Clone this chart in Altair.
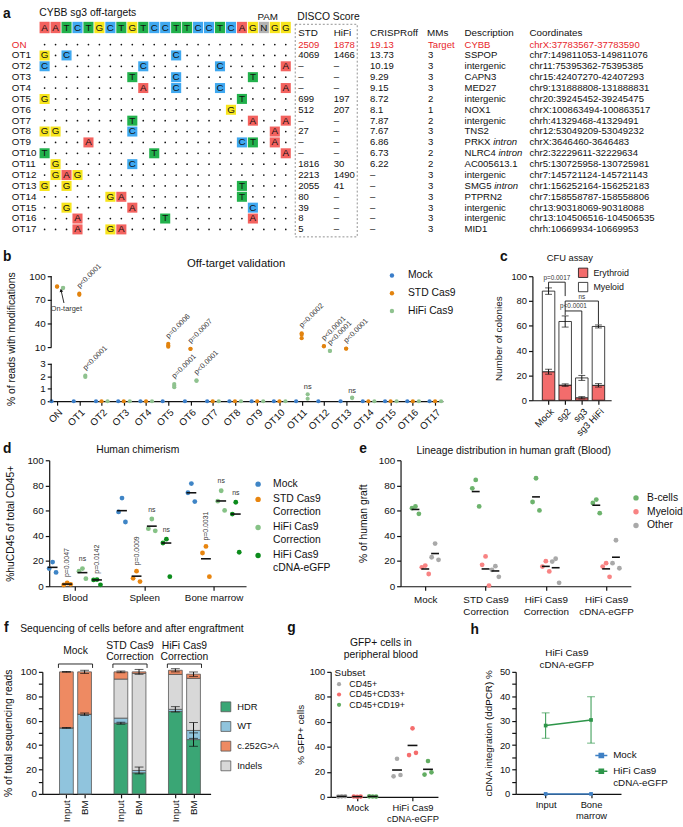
import json
import altair as alt
import pandas as pd

FONT = "Liberation Sans"
INK = "#111111"
ON_RED = "#e8262b"

# ============ a: CYBB sg3 on- and off-target sites ============
GUIDE = "AATCTGCTGTCCTTCCTCAGNGG"
SITES = ["ON", "OT1", "OT2", "OT3", "OT4", "OT5", "OT6", "OT7", "OT8", "OT9",
         "OT10", "OT11", "OT12", "OT13", "OT14", "OT15", "OT16", "OT17"]
# mismatches as "<position><base>" along protospacer + PAM
MISMATCHES = ["", "1G 3C 13C", "1C 10C 17C 23A", "9T 13C 20T", "10A 13C 17C 23A",
              "1G 19T", "18G", "9T 20A 23A", "1G 2G 9C 22A", "5A 19C 20T 22A",
              "1T 11T 23A", "2G 9C", "2G 3A 4G", "1G 3G 19T", "7G 8A 19T",
              "3G 9A 20C", "4A 12T 20A", "4A 7G 8A"]
DISCO_STD = ["2509", "4069", "–", "–", "–", "699", "512", "–", "27", "–", "–",
             "1816", "2213", "2055", "80", "39", "8", "5"]
DISCO_HIFI = ["1878", "1466", "–", "–", "–", "197", "207", "–", "–", "–", "–",
              "30", "1490", "41", "–", "–", "–", "–"]
CRISPROFF = ["19.13", "13.73", "10.19", "9.29", "9.15", "8.72", "8.1", "7.87", "7.67",
             "6.86", "6.73", "6.22", "–", "–", "–", "–", "–", "–"]
MMS = ["Target", "3", "3", "3", "3", "2", "1", "2", "3", "3", "2", "2",
       "3", "3", "3", "3", "3", "3"]
GENES = ["CYBB", "SSPOP", "intergenic", "CAPN3", "MED27", "intergenic", "NOX1",
         "intergenic", "TNS2", "PRKX", "NLRC4", "AC005613.1", "intergenic", "SMG5",
         "PTPRN2", "intergenic", "intergenic", "MID1"]
INTRONIC = ["OT9", "OT10", "OT13"]
COORDS = ["chrX:37783567-37783590", "chr7:149811053-149811076", "chr11:75395362-75395385",
          "chr15:42407270-42407293", "chr9:131888808-131888831", "chr20:39245452-39245475",
          "chrX:100863494-100863517", "chrh:41329468-41329491", "chr12:53049209-53049232",
          "chrX:3646460-3646483", "chr2:32229611-32229634", "chr5:130725958-130725981",
          "chr7:145721124-145721143", "chr1:156252164-156252183", "chr7:158558787-158558806",
          "chr13:90318069-90318088", "chr13:104506516-104506535", "chrh:10669934-10669953"]

# ============ b: amplicon sequencing of the sites ============
READ_SERIES = ["Mock", "STD Cas9", "HiFi Cas9"]
READS_MOCK = [[0], [0], [0], [0], [0], [0], [0], [0], [0],
              [0], [0], [0], [0], [0], [0], [0], [0], [0]]
READS_STD = [[87.1, 86.6], [77.9, 76.4], [0], [0], [0], [14.1, 12.0, 10.4], [7.6, 7.9],
             [0], [0], [0], [0], [27.5, 25.8, 21.3], [11.3, 11.0], [7.9, 8.2],
             [0], [0], [0], [0]]
READS_HIFI = [[85.4, 85.0], [2.05, 1.95], [0], [0], [0], [1.38, 1.25, 1.12], [1.68, 1.62],
              [0], [0], [0], [0], [0.55, 0.2], [5.0, 5.3], [0.3, 0.25],
              [0], [0], [0], [0]]
READ_PVALUES = [("OT1", "STD Cas9", "p<0.0001"), ("OT1", "HiFi Cas9", "p<0.0001"),
                ("OT5", "STD Cas9", "p=0.0006"), ("OT5", "HiFi Cas9", "p=0.0001"),
                ("OT6", "STD Cas9", "p=0.0007"), ("OT6", "HiFi Cas9", "p<0.0001"),
                ("OT11", "STD Cas9", "p=0.0002"), ("OT11", "HiFi Cas9", "ns"),
                ("OT12", "STD Cas9", "p<0.0001"), ("OT12", "HiFi Cas9", "p<0.0001"),
                ("OT13", "STD Cas9", "p<0.0001"), ("OT13", "HiFi Cas9", "ns")]
READ_TICKS = [0, 1, 2, 3, 10, 40, 70, 100]

# ============ c: CFU assay ============
CFU_GROUPS = ["Mock", "sg2", "sg3", "sg3 HiFi"]
CFU_ERYTHROID = [23.0, 12.2, 2.0, 12.0]
CFU_ERYTHROID_SD = [2.0, 1.0, 0.9, 1.4]
CFU_MYELOID = [65.0, 51.3, 16.0, 47.5]
CFU_TOTAL_SD = [2.6, 4.5, 2.0, 1.2]
CFU_TESTS = [("Mock", "sg2", 95.2, 89.8, 84.0, "p=0.0017"),
             ("sg2", "sg3", 72.0, 68.6, 21.0, "p<0.0001"),
             ("sg2", "sg3 HiFi", 80.0, 72.0, 61.0, "ns")]

# ============ d: human chimerism ============
TISSUES = ["Blood", "Spleen", "Bone marrow"]
ARMS = ["Mock", "STD Cas9 Correction", "HiFi Cas9 Correction", "HiFi Cas9 cDNA-eGFP"]
CHIM_MOCK = [[19.2, 14.0, 11.0], [70.0, 59.0, 51.0], [81.5, 74.2, 67.2]]
CHIM_STD = [[2.6, 1.0, 1.5], [12.0, 6.3, 3.7], [31.6, 26.4, 7.6]]
CHIM_HIFI = [[14.0, 12.0, 6.0], [53.4, 45.7, 44.0], [75.8, 67.5, 60.2]]
CHIM_CDNA = [[5.3, 5.0, 1.1], [37.4, 34.3, 7.6], [66.7, 57.3, 27.0]]
CHIM_LINE_MOCK = [15.0, 60.0, 74.2]
CHIM_LINE_STD = [1.7, 8.0, 21.8]
CHIM_LINE_HIFI = [10.8, 47.7, 67.7]
CHIM_LINE_CDNA = [5.0, 34.3, 57.3]
CHIM_TESTS = [("Blood", "STD Cas9 Correction", "p=0.0047"),
              ("Blood", "HiFi Cas9 Correction", "ns"),
              ("Blood", "HiFi Cas9 cDNA-eGFP", "p=0.0142"),
              ("Spleen", "STD Cas9 Correction", "p=0.0009"),
              ("Spleen", "HiFi Cas9 Correction", "ns"),
              ("Spleen", "HiFi Cas9 cDNA-eGFP", "ns"),
              ("Bone marrow", "STD Cas9 Correction", "p=0.0031"),
              ("Bone marrow", "HiFi Cas9 Correction", "ns"),
              ("Bone marrow", "HiFi Cas9 cDNA-eGFP", "ns")]

# ============ e: lineages in the graft ============
LINEAGES = ["B-cells", "Myeloid", "Other"]
GRAFT_B = [[63.4, 62.0, 57.5], [84.4, 77.7, 63.4], [85.7, 66.9, 60.2], [68.8, 66.1, 58.0]]
GRAFT_MYELOID = [[16.4, 15.0, 9.7], [23.7, 17.0, 0.5], [19.9, 15.6, 11.8], [18.3, 15.6, 7.5]]
GRAFT_OTHER = [[33.9, 23.0, 21.0], [15.9, 13.0, 7.5], [21.8, 19.6, 2.7], [36.5, 18.3, 14.3]]

# ============ f: allele sequencing ============
SEQ_ARMS = ["Mock", "STD Cas9 Correction", "HiFi Cas9 Correction"]
SEQ_SAMPLES = ["Input", "BM"]
ALLELES = ["HDR", "WT", "c.252G>A", "Indels"]
STACK_ORDER = ["HDR", "WT", "Indels", "c.252G>A"]
READS_HDR = [0, 0, 57.9, 17.3, 67.5, 44.5]
READS_WT = [54.1, 65.3, 4.2, 1.9, 1.8, 7.5]
READS_INDEL = [0, 0, 32.0, 79.5, 28.6, 42.7]
READS_C252 = [45.9, 34.7, 5.9, 1.3, 3.4, 3.4]
SEQ_SD = [(0, "WT", 0.3), (0, "c.252G>A", 0.3), (1, "WT", 1.0), (1, "c.252G>A", 1.3),
          (2, "HDR", 0.8), (2, "c.252G>A", 0.7), (3, "WT", 2.8), (3, "c.252G>A", 2.0),
          (4, "WT", 2.2), (4, "c.252G>A", 1.3), (5, "HDR", 5.5), (5, "WT", 6.5),
          (5, "c.252G>A", 1.8)]

# ============ g: GFP+ cells in blood ============
GFP_ARMS = ["Mock", "HiFi Cas9 cDNA-eGFP"]
SUBSETS = ["CD45+", "CD45+CD33+", "CD45+CD19+"]
GFP_CD45 = [[0.4, 0.2, 0.5], [30.5, 16.4, 17.5]]
GFP_CD33 = [[0.1, 0.3, 0.2], [54.8, 33.4, 35.2]]
GFP_CD19 = [[0.3, 0.4, 0.2], [28.7, 17.8, 19.6]]

# ============ h: ddPCR ============
DDPCR_SAMPLES = ["Input", "Bone marrow"]
DDPCR_ARMS = ["Mock", "HiFi Cas9 cDNA-eGFP"]
DDPCR_MOCK = [0.0, 0.0]
DDPCR_CDNA = [28.0, 30.3]
DDPCR_CDNA_SD = [5.2, 9.5]

REP_SHIFT = [0.0, -3.5, 3.5]  # horizontal spread of replicate dots, px


# ---------------- helpers ----------------
def note(text, x, y, **mark):
    mark.setdefault("baseline", "middle")
    return alt.Chart(pd.DataFrame({"t": [text]})).mark_text(**mark).encode(
        x=alt.value(x), y=alt.value(y), text="t:N")


def panel_letter(ch, x, y):
    return note(ch, x, y, fontSize=14, fontWeight="bold", align="left", color=INK)


def panel_title(lines, x, y, size=10.5, step=12):
    """One centred text mark per title line."""
    return [note(t, x, y + k * step, fontSize=size, align="center", color=INK)
            for k, t in enumerate(lines)]


def spacer():
    """Zero-content cell that anchors the left edge of a row."""
    return alt.Chart(pd.DataFrame({"k": [0]})).mark_rect(opacity=0).encode(
        x=alt.value(0), x2=alt.value(1), y=alt.value(0), y2=alt.value(1)).properties(width=1, height=1)


def two_line(name):
    if "Cas9 " in name:
        head, tail = name.split("Cas9 ", 1)
        return [head + "Cas9", tail]
    return [name]


def index_axis(names, **kw):
    labels = json.dumps([two_line(n) for n in names])
    return alt.Axis(values=list(range(len(names))), labelExpr=f"{labels}[round(datum.value)]",
                    title=None, grid=False, labelOverlap=False, labelFlush=False, **kw)


TWO_LINE_EXPR = ("indexof(datum.label, 'Cas9 ') >= 0 ? "
                 "[slice(datum.label, 0, indexof(datum.label, 'Cas9 ') + 4), "
                 "slice(datum.label, indexof(datum.label, 'Cas9 ') + 5)] : datum.label")


def caps(df, lo="y", hi="y2"):
    return pd.concat([df[["xq", lo]].rename(columns={lo: "y"}),
                      df[["xq", hi]].rename(columns={hi: "y"})], ignore_index=True)


# ---------------- panel a ----------------
BASES = ["A", "T", "C", "G", "N"]
BASE_COLORS = ["#f3625f", "#22b14c", "#3fa8f0", "#f7e51c", "#b3b3b3"]
base_color = alt.Color("base:N", scale=alt.Scale(domain=BASES, range=BASE_COLORS), legend=None)

cell_rows = []
for site, mm in zip(SITES, MISMATCHES):
    subs = {int(tok[:-1]): tok[-1] for tok in mm.split()}
    for p in range(1, len(GUIDE) + 1):
        cell_rows.append({"site": site, "pos": p, "base": subs.get(p, "")})
cells = pd.DataFrame(cell_rows)
guide = pd.DataFrame({"pos": list(range(1, len(GUIDE) + 1)), "base": list(GUIDE)})
site_table = pd.DataFrame({"site": SITES, "std": DISCO_STD, "hifi": DISCO_HIFI, "off": CRISPROFF,
                           "mms": MMS, "gene": GENES, "coord": COORDS})

a_x = alt.X("pos:O", axis=None, scale=alt.Scale(domain=list(range(1, len(GUIDE) + 1)),
                                                range=[38.2, 293.5], paddingInner=0.08, paddingOuter=0))
a_y = alt.Y("site:O", axis=None, scale=alt.Scale(domain=SITES, range=[33.5, 231.5],
                                                 paddingInner=0.08, paddingOuter=0))
on_red = alt.condition(alt.datum.site == "ON", alt.value(ON_RED), alt.value(INK))

mism = cells[cells.base != ""]
match = cells[cells.base == ""]

a_layers = [
    alt.Chart(guide).mark_rect().encode(x=a_x, y=alt.value(15.5), y2=alt.value(27), color=base_color),
    alt.Chart(guide).mark_text(fontSize=10, color=INK, baseline="middle").encode(
        x=a_x, y=alt.value(21.5), text="base:N"),
    alt.Chart(mism).mark_rect().encode(x=a_x, y=a_y, color=base_color),
    alt.Chart(mism).mark_text(fontSize=10, color=INK, baseline="middle").encode(x=a_x, y=a_y, text="base:N"),
    alt.Chart(match).mark_circle(size=3, color=INK, opacity=1).encode(x=a_x, y=a_y),
    alt.Chart(site_table).mark_text(align="left", baseline="middle", fontSize=10).encode(
        x=alt.value(10), y=a_y, text="site:N", color=on_red),
]
for field, x in [("std", 301), ("hifi", 337), ("off", 374), ("mms", 433), ("gene", 470), ("coord", 536)]:
    a_layers.append(alt.Chart(site_table).mark_text(align="left", baseline="middle", fontSize=9.7).encode(
        x=alt.value(x), y=a_y, text=f"{field}:N", color=on_red))
for text, x in [("STD", 301), ("HiFi", 337), ("CRISPRoff", 374), ("MMs", 432),
                ("Description", 470), ("Coordinates", 536)]:
    a_layers.append(note(text, x, 26.5, align="left", fontSize=10, color=INK))

ARIAL = {"P": .667, "R": .722, "K": .667, "X": .667, "N": .722, "L": .556, "C": .722,
         "S": .667, "M": .833, "G": .778, "4": .556, "5": .556, " ": .278}
for site in INTRONIC:
    gene = GENES[SITES.index(site)]
    shift = sum(ARIAL[ch] for ch in gene + " ") * 9.7
    a_layers.append(alt.Chart(site_table[site_table.site == site]).mark_text(
        align="left", baseline="middle", fontSize=9.7, fontStyle="italic", dx=shift, color=INK).encode(
        x=alt.value(470), y=a_y, text=alt.value("intron")))

a_layers += [
    note("DISCO Score", 300, 11, align="left", fontSize=10.5, color=INK),
    note("PAM", 270, 10.5, align="center", fontSize=10, color=INK),
    note("CYBB sg3 off-targets", 38, 7, align="left", fontSize=10.5, color=INK),
    panel_letter("a", 1, 7.5),
    alt.Chart(pd.DataFrame({"k": [0]})).mark_rect(fillOpacity=0, stroke="#777777",
                                                  strokeDash=[2, 2], strokeWidth=0.8).encode(
        x=alt.value(298), x2=alt.value(361), y=alt.value(18), y2=alt.value(234)),
]
panel_a = alt.layer(*a_layers).properties(width=678, height=243)


# ---------------- panel b ----------------
def broken(v):
    """Broken axis: 0-3 % on the lower segment, 10-100 % on the upper one."""
    return v * 38 / 3 if v <= 3 else 55 + (v - 10) * 0.8


B_COLORS = ["#3a7dc9", "#e2830e", "#8fc28f"]
B_DODGE = {"Mock": -0.25, "STD Cas9": 0.0, "HiFi Cas9": 0.27}
b_rows = []
for series, per_site in zip(READ_SERIES, [READS_MOCK, READS_STD, READS_HIFI]):
    for i, reps in enumerate(per_site):
        for v in reps:
            b_rows.append({"site": SITES[i], "series": series, "v": v,
                           "xq": i + B_DODGE[series], "yq": broken(v)})
b_df = pd.DataFrame(b_rows)

b_x = alt.X("xq:Q", scale=alt.Scale(domain=[-0.265, 17.35], nice=False, zero=False),
            axis=index_axis(SITES, labelAngle=315, labelFontSize=10))
b_y = alt.Y("yq:Q", scale=alt.Scale(domain=[0, broken(100)], nice=False),
            axis=alt.Axis(values=[broken(t) for t in READ_TICKS],
                          labelExpr="datum.value <= 38.5 ? format(datum.value * 3 / 38, '.0f') "
                                    ": format(10 + (datum.value - 55) / 0.8, '.0f')",
                          domain=False, grid=False, labelOverlap=False,
                          title="% of reads with modifications", titlePadding=13,
                          labelFontSize=10, titleFontSize=10.5))

tops = b_df.groupby(["site", "series"], as_index=False).agg(xq=("xq", "first"), yq=("yq", "max"))
b_notes = pd.DataFrame(READ_PVALUES, columns=["site", "series", "label"]).merge(tops, on=["site", "series"])
b_axis = pd.DataFrame({"yq": [broken(0), broken(10)], "yq2": [broken(3), broken(100)]})
on_arrow = pd.DataFrame({"xq": [0.31], "yq": [broken(66)], "xq2": [0.18], "yq2": [broken(82)]})

b_points = alt.Chart(b_df).mark_circle(size=18, opacity=1).encode(
    x=b_x, y=b_y,
    color=alt.Color("series:N", scale=alt.Scale(domain=READ_SERIES, range=B_COLORS),
                    legend=alt.Legend(orient="none", legendX=341, legendY=-6, title=None,
                                      symbolType="circle", symbolSize=20, labelFontSize=10.5,
                                      rowPadding=7, labelOffset=11)))
panel_b = alt.layer(
    b_points,
    alt.Chart(b_axis).mark_rule(color=INK, strokeWidth=1.2).encode(x=alt.value(0), y=b_y, y2="yq2:Q"),
    alt.Chart(b_notes[b_notes.label != "ns"]).mark_text(
        angle=315, align="left", baseline="middle", fontSize=7.5, dx=4, dy=-5.5, color="#333333").encode(
        x=b_x, y=b_y, text="label:N"),
    alt.Chart(b_notes[b_notes.label == "ns"]).mark_text(fontSize=7.5, baseline="middle", dy=-7,
                                                        color="#333333").encode(
        x=b_x, y=b_y, text="label:N"),
    alt.Chart(pd.DataFrame({"xq": [0.42], "yq": [broken(58.5)], "t": ["On-target"]})).mark_text(
        fontSize=7.5, baseline="middle", color="#333333").encode(x=b_x, y=b_y, text="t:N"),
    alt.Chart(on_arrow).mark_rule(color=INK, strokeWidth=0.9).encode(
        x=b_x, y=b_y, x2="xq2:Q", y2="yq2:Q"),
    alt.Chart(on_arrow.assign(xq=on_arrow.xq2, yq=on_arrow.yq2)).mark_point(
        shape="triangle-up", filled=True, size=14, color=INK, opacity=1, angle=347).encode(x=b_x, y=b_y),
    *panel_title(["Off-target validation"], 188, -12, size=11.5),
    panel_letter("b", -49, -19),
).properties(width=398, height=127)

# ---------------- panel c ----------------
c_bar_rows, c_err_rows = [], []
for i, g in enumerate(CFU_GROUPS):
    e, m = CFU_ERYTHROID[i], CFU_MYELOID[i]
    c_bar_rows.append({"xq": i, "lineage": "Erythroid", "y": 0, "y2": e})
    c_bar_rows.append({"xq": i, "lineage": "Myeloid", "y": e, "y2": e + m})
    c_err_rows.append({"xq": i, "y": e - CFU_ERYTHROID_SD[i], "y2": e + CFU_ERYTHROID_SD[i]})
    c_err_rows.append({"xq": i, "y": e + m - CFU_TOTAL_SD[i], "y2": e + m + CFU_TOTAL_SD[i]})
c_bars = pd.DataFrame(c_bar_rows)
c_err = pd.DataFrame(c_err_rows)
c_span, c_legs, c_lbl = [], [], []
for a, b, top, left_end, right_end, label in CFU_TESTS:
    ia, ib = CFU_GROUPS.index(a), CFU_GROUPS.index(b)
    c_span.append({"xq": ia, "xq2": ib, "y": top})
    c_legs += [{"xq": ia, "y": top, "y2": left_end}, {"xq": ib, "y": top, "y2": right_end}]
    c_lbl.append({"xq": (ia + ib) / 2, "y": top, "label": label})

c_x = alt.X("xq:Q", scale=alt.Scale(domain=[-0.674, 3.47], nice=False, zero=False),
            axis=index_axis(CFU_GROUPS, labelAngle=315, labelFontSize=9.5))
c_y = alt.Y("y:Q", scale=alt.Scale(domain=[0, 100], nice=False),
            axis=alt.Axis(values=[0, 20, 40, 60, 80, 100], title="Number of colonies", titlePadding=8,
                          labelFontSize=9.5, titleFontSize=10, grid=False, labelOverlap=False))
panel_c = alt.layer(
    alt.Chart(c_bars).mark_bar(size=12.7, stroke=INK, strokeWidth=0.8).encode(
        x=c_x, y=c_y, y2="y2:Q",
        color=alt.Color("lineage:N", scale=alt.Scale(domain=["Erythroid", "Myeloid"],
                                                     range=["#f36c6c", "#ffffff"]),
                        legend=alt.Legend(orient="none", legendX=46, legendY=-9, title=None,
                                          symbolType="square", symbolSize=90, symbolStrokeColor=INK,
                                          symbolStrokeWidth=0.8, labelFontSize=9, rowPadding=1.5,
                                          labelOffset=5))),
    alt.Chart(c_err).mark_rule(color=INK, strokeWidth=1).encode(x=c_x, y=c_y, y2="y2:Q"),
    alt.Chart(caps(c_err)).mark_tick(orient="horizontal", size=7, thickness=1, color=INK).encode(
        x=c_x, y=c_y),
    alt.Chart(pd.DataFrame(c_span)).mark_rule(color=INK, strokeWidth=0.9).encode(
        x=c_x, x2="xq2:Q", y=c_y),
    alt.Chart(pd.DataFrame(c_legs)).mark_rule(color=INK, strokeWidth=0.9).encode(
        x=c_x, y=c_y, y2="y2:Q"),
    alt.Chart(pd.DataFrame(c_lbl)).mark_text(fontSize=6.5, baseline="bottom", dy=-1.5,
                                             color="#333333").encode(x=c_x, y=c_y, text="label:N"),
    *panel_title(["CFU assay"], 38, -18, size=9.5),
    panel_letter("c", -33, -19),
).properties(width=80, height=126)

# ---------------- panel d ----------------
D_COLORS = ["#3f85c6", "#e8850f", "#86c286", "#0c8c1c"]
D_OFFSET = [-0.32, -0.11, 0.11, 0.32]
D_STEP = 70.5
d_rows, d_line_rows = [], []
for ai, (arm, per_tissue, line) in enumerate(zip(
        ARMS, [CHIM_MOCK, CHIM_STD, CHIM_HIFI, CHIM_CDNA],
        [CHIM_LINE_MOCK, CHIM_LINE_STD, CHIM_LINE_HIFI, CHIM_LINE_CDNA])):
    for ti, reps in enumerate(per_tissue):
        for r, v in enumerate(reps):
            d_rows.append({"arm": arm, "tissue": TISSUES[ti], "v": v,
                           "xq": ti + D_OFFSET[ai] + REP_SHIFT[r] / D_STEP})
        d_line_rows.append({"xq": ti + D_OFFSET[ai], "v": line[ti]})
d_df = pd.DataFrame(d_rows)
d_top = d_df.groupby(["tissue", "arm"], as_index=False)["v"].max()
d_notes = pd.DataFrame(CHIM_TESTS, columns=["tissue", "arm", "label"]).merge(d_top, on=["tissue", "arm"])
d_notes["xq"] = [TISSUES.index(t) + D_OFFSET[ARMS.index(a)] for t, a in zip(d_notes.tissue, d_notes.arm)]

d_x = alt.X("xq:Q", scale=alt.Scale(domain=[-0.369, 2.468], nice=False, zero=False),
            axis=index_axis(TISSUES, labelAngle=0, labelFontSize=10))
d_y = alt.Y("v:Q", scale=alt.Scale(domain=[0, 100], nice=False),
            axis=alt.Axis(values=[0, 20, 40, 60, 80, 100], title="%huCD45 of total CD45+",
                          titlePadding=12, labelFontSize=10, titleFontSize=10.5, grid=False,
                          labelOverlap=False))
panel_d = alt.layer(
    alt.Chart(d_df).mark_circle(size=24, opacity=1).encode(
        x=d_x, y=d_y,
        color=alt.Color("arm:N", scale=alt.Scale(domain=ARMS, range=D_COLORS),
                        legend=alt.Legend(orient="none", legendX=207, legendY=19, title=None,
                                          symbolType="circle", symbolSize=30, labelFontSize=10.5,
                                          labelExpr=TWO_LINE_EXPR, rowPadding=4.5, labelOffset=10))),
    alt.Chart(pd.DataFrame(d_line_rows)).mark_point(shape="M-1,0L1,0", size=100, strokeWidth=1.6,
                                                    color=INK, filled=False, opacity=1).encode(
        x=d_x, y=d_y),
    alt.Chart(d_notes[d_notes.label != "ns"]).mark_text(
        angle=270, align="left", baseline="middle", dx=6, fontSize=7, color="#333333").encode(
        x=d_x, y=d_y, text="label:N"),
    alt.Chart(d_notes[d_notes.label == "ns"]).mark_text(dy=-9.5, baseline="middle", fontSize=7,
                                                        color="#333333").encode(
        x=d_x, y=d_y, text="label:N"),
    *panel_title(["Human chimerism"], 90, -10),
    panel_letter("d", -47, -11),
).properties(width=200, height=128)

# ---------------- panel e ----------------
E_COLORS = ["#6db36d", "#f88383", "#a9a9a9"]
E_OFFSET = [-0.163, 0.0, 0.163]
E_STEP = 61.3
e_rows = []
for li, (lin, per_arm) in enumerate(zip(LINEAGES, [GRAFT_B, GRAFT_MYELOID, GRAFT_OTHER])):
    for ai, reps in enumerate(per_arm):
        for r, v in enumerate(reps):
            e_rows.append({"lineage": lin, "v": v, "xc": ai + E_OFFSET[li],
                           "xq": ai + E_OFFSET[li] + REP_SHIFT[r] / E_STEP})
e_df = pd.DataFrame(e_rows)
e_mean = e_df.groupby(["lineage", "xc"], as_index=False)["v"].mean().rename(columns={"xc": "xq"})

e_x = alt.X("xq:Q", scale=alt.Scale(domain=[-0.41, 3.41], nice=False, zero=False),
            axis=index_axis(ARMS, labelAngle=0, labelFontSize=10, labelLineHeight=11.5, labelPadding=5))
e_y = alt.Y("v:Q", scale=alt.Scale(domain=[0, 100], nice=False),
            axis=alt.Axis(values=[0, 20, 40, 60, 80, 100], title="% of human graft", titlePadding=10,
                          labelFontSize=10, titleFontSize=10.5, grid=False, labelOverlap=False))
panel_e = alt.layer(
    alt.Chart(e_df).mark_circle(size=24, opacity=1).encode(
        x=e_x, y=e_y,
        color=alt.Color("lineage:N", scale=alt.Scale(domain=LINEAGES, range=E_COLORS),
                        legend=alt.Legend(orient="none", legendX=234, legendY=33, title=None,
                                          symbolType="circle", symbolSize=30, labelFontSize=10.5,
                                          rowPadding=3, labelOffset=6))),
    alt.Chart(e_mean).mark_point(shape="M-1,0L1,0", size=64, strokeWidth=1.6, color=INK,
                                 filled=False, opacity=1).encode(x=e_x, y=e_y),
    *panel_title(["Lineage distribution in human graft (Blood)"], 115, -9),
    panel_letter("e", -42, -11),
).properties(width=234, height=128)

# ---------------- panel f ----------------
F_COLORS = ["#3aa675", "#90c4dd", "#ee8a62", "#d8d8d8"]
seq_values = {"HDR": READS_HDR, "WT": READS_WT, "Indels": READS_INDEL, "c.252G>A": READS_C252}
f_rows, level = [], {}
for bar in range(len(SEQ_ARMS) * len(SEQ_SAMPLES)):
    arm, smp = divmod(bar, len(SEQ_SAMPLES))
    base = 0.0
    for allele in STACK_ORDER:
        top = base + seq_values[allele][bar]
        f_rows.append({"xq": arm * 3 + smp, "allele": allele, "y": base, "y2": top})
        level[(bar, allele)] = top
        base = top
f_bars = pd.DataFrame(f_rows)
f_err = pd.DataFrame([{"xq": (b // 2) * 3 + b % 2, "y": level[(b, a)] - sd, "y2": level[(b, a)] + sd}
                      for b, a, sd in SEQ_SD])
f_groups = pd.DataFrame({"xq": [g * 3 + 0.5 for g in range(len(SEQ_ARMS))],
                         "first": [two_line(a)[0] for a in SEQ_ARMS],
                         "second": [two_line(a)[-1] if len(two_line(a)) > 1 else "" for a in SEQ_ARMS]})
f_brackets = pd.DataFrame({"xq": [g * 3 - 0.44 for g in range(len(SEQ_ARMS))],
                           "xq2": [g * 3 + 1.44 for g in range(len(SEQ_ARMS))]})
f_ends = pd.DataFrame({"xq": list(f_brackets.xq) + list(f_brackets.xq2)})

f_x = alt.X("xq:Q", scale=alt.Scale(domain=[-1.056, 7.67], nice=False, zero=False),
            axis=alt.Axis(values=[0, 1, 3, 4, 6, 7], labelAngle=270, labelFontSize=10, title=None,
                          labelExpr="round(datum.value) % 3 == 0 ? 'Input' : 'BM'",
                          labelOverlap=False, labelFlush=False, grid=False))
f_y = alt.Y("y:Q", scale=alt.Scale(domain=[0, 100], nice=False),
            axis=alt.Axis(values=list(range(0, 101, 10)), labelExpr="datum.value % 20 == 0 ? datum.label : ''",
                          title="% of total sequencing reads", titlePadding=6.5, labelFontSize=10,
                          titleFontSize=10.5, grid=False, labelOverlap=False))
panel_f = alt.layer(
    alt.Chart(f_bars).mark_bar(size=14, stroke="#555555", strokeWidth=0.8).encode(
        x=f_x, y=f_y, y2="y2:Q",
        color=alt.Color("allele:N", scale=alt.Scale(domain=ALLELES, range=F_COLORS),
                        legend=alt.Legend(orient="none", legendX=181, legendY=30, title=None,
                                          symbolType="square", symbolSize=100,
                                          symbolStrokeColor="#555555", symbolStrokeWidth=0.8,
                                          labelFontSize=9.5, rowPadding=5, labelOffset=6))),
    alt.Chart(f_err).mark_rule(color=INK, strokeWidth=1).encode(x=f_x, y=f_y, y2="y2:Q"),
    alt.Chart(caps(f_err)).mark_tick(orient="horizontal", size=9, thickness=1, color=INK).encode(
        x=f_x, y=f_y),
    alt.Chart(f_groups[f_groups.second == ""]).mark_text(fontSize=10.5, baseline="middle", color=INK).encode(
        x=f_x, y=alt.value(-21), text="first:N"),
    alt.Chart(f_groups[f_groups.second != ""]).mark_text(fontSize=10.5, baseline="middle", color=INK).encode(
        x=f_x, y=alt.value(-26), text="first:N"),
    alt.Chart(f_groups[f_groups.second != ""]).mark_text(fontSize=10.5, baseline="middle", color=INK).encode(
        x=f_x, y=alt.value(-15.5), text="second:N"),
    alt.Chart(f_brackets).mark_rule(color=INK, strokeWidth=0.9).encode(
        x=f_x, x2="xq2:Q", y=alt.value(-8)),
    alt.Chart(f_ends).mark_rule(color=INK, strokeWidth=0.9).encode(
        x=f_x, y=alt.value(-8), y2=alt.value(-4)),
    *panel_title(["Sequencing of cells before and after engraftment"], 91, -44),
    panel_letter("f", -39, -44),
).properties(width=171, height=124)

# ---------------- panel g ----------------
G_COLORS = ["#a9a9a9", "#f56d6d", "#62ad62"]
G_OFFSET = [-0.28, 0.0, 0.28]
G_STEP = 56.0
g_rows = []
for si, (subset, per_arm) in enumerate(zip(SUBSETS, [GFP_CD45, GFP_CD33, GFP_CD19])):
    for ai, reps in enumerate(per_arm):
        for r, v in enumerate(reps):
            g_rows.append({"subset": subset, "v": v, "xc": ai + G_OFFSET[si],
                           "xq": ai + G_OFFSET[si] + REP_SHIFT[r] / G_STEP})
g_df = pd.DataFrame(g_rows)
g_mean = g_df.groupby(["subset", "xc"], as_index=False)["v"].mean().rename(columns={"xc": "xq"})

g_x = alt.X("xq:Q", scale=alt.Scale(domain=[-0.48, 1.46], nice=False, zero=False),
            axis=index_axis(GFP_ARMS, labelAngle=0, labelFontSize=9.5, labelLineHeight=11))
g_y = alt.Y("v:Q", scale=alt.Scale(domain=[0, 100], nice=False),
            axis=alt.Axis(values=[0, 20, 40, 60, 80, 100], title="% GFP+ cells", titlePadding=4,
                          labelFontSize=9.5, titleFontSize=10, grid=False, labelOverlap=False))
panel_g = alt.layer(
    alt.Chart(g_df).mark_circle(size=22, opacity=1).encode(
        x=g_x, y=g_y,
        color=alt.Color("subset:N", scale=alt.Scale(domain=SUBSETS, range=G_COLORS),
                        legend=alt.Legend(orient="none", legendX=4, legendY=-4, title="Subset",
                                          titleFontSize=10, titleFontWeight="normal", titlePadding=2,
                                          symbolType="circle", symbolSize=18, labelFontSize=9,
                                          rowPadding=0.5, labelOffset=6))),
    alt.Chart(g_mean).mark_point(shape="M-1,0L1,0", size=100, strokeWidth=1.6, color=INK,
                                 filled=False, opacity=1).encode(x=g_x, y=g_y),
    *panel_title(["GFP+ cells in", "peripheral blood"], 51, -29),
    panel_letter("g", -44, -44),
).properties(width=109, height=127)

# ---------------- panel h ----------------
H_COLORS = ["#3f80c4", "#2d9549"]
h_df = pd.DataFrame([{"sample": s, "arm": arm, "v": vals[i]}
                     for arm, vals in zip(DDPCR_ARMS, [DDPCR_MOCK, DDPCR_CDNA])
                     for i, s in enumerate(DDPCR_SAMPLES)])
h_err = pd.DataFrame({"sample": DDPCR_SAMPLES,
                      "v": [m - s for m, s in zip(DDPCR_CDNA, DDPCR_CDNA_SD)],
                      "v2": [m + s for m, s in zip(DDPCR_CDNA, DDPCR_CDNA_SD)]})
h_caps = pd.concat([h_err[["sample", "v"]],
                    h_err[["sample", "v2"]].rename(columns={"v2": "v"})], ignore_index=True)

h_x = alt.X("sample:N", scale=alt.Scale(domain=DDPCR_SAMPLES, type="point", padding=0.66),
            axis=alt.Axis(labelAngle=0, labelExpr="split(datum.label, ' ')", title=None,
                          labelFontSize=9.5, labelLineHeight=11, grid=False))
h_y = alt.Y("v:Q", scale=alt.Scale(domain=[0, 50], nice=False),
            axis=alt.Axis(values=list(range(0, 51, 5)), labelExpr="datum.value % 10 == 0 ? datum.label : ''",
                          title="cDNA integration (ddPCR) %", titlePadding=6, labelFontSize=9.5,
                          titleFontSize=10, grid=False, labelOverlap=False))
h_scale = alt.Scale(domain=DDPCR_ARMS, range=H_COLORS)
h_color = alt.Color("arm:N", scale=h_scale,
                    legend=alt.Legend(orient="none", legendX=80, legendY=78, title=None,
                                      symbolType="M-1,0H1M-0.35,-0.35H0.35V0.35H-0.35Z",
                                      symbolSize=150, symbolStrokeWidth=1.5, labelFontSize=10,
                                      labelExpr=TWO_LINE_EXPR, rowPadding=3, labelOffset=5))
panel_h = alt.layer(
    alt.Chart(h_df).mark_line(strokeWidth=1.5).encode(x=h_x, y=h_y, color=h_color),
    alt.Chart(h_err).mark_rule(color=H_COLORS[1], strokeWidth=1).encode(x=h_x, y=h_y, y2="v2:Q"),
    alt.Chart(h_caps).mark_tick(orient="horizontal", size=8, thickness=1, color=H_COLORS[1]).encode(
        x=h_x, y=h_y),
    alt.Chart(h_df).mark_point(shape="square", filled=True, size=14, opacity=1).encode(
        x=h_x, y=h_y, color=alt.Color("arm:N", scale=h_scale)),
    *panel_title(["HiFi Cas9", "cDNA-eGFP"], 52, -19, size=10),
    panel_letter("h", -46, -42),
).properties(width=107, height=124)

# ---------------- assembly ----------------
def row(*cells, spacing):
    inner = alt.hconcat(*cells, spacing=spacing).resolve_scale(color="independent")
    return alt.hconcat(spacer(), inner, spacing=0).resolve_scale(color="independent")


row2 = row(panel_b, panel_c, spacing=38)
row3 = row(panel_d, panel_e, spacing=28)
row4 = row(alt.hconcat(panel_f, panel_g, spacing=8).resolve_scale(color="independent"),
           panel_h, spacing=32)

PAD = {"left": 2, "top": 0, "right": 0, "bottom": 0}
chart = alt.vconcat(panel_a, row2, row3, row4, spacing=5).resolve_scale(
    color="independent"
).properties(
    padding=PAD
).configure(
    font=FONT, padding=PAD
).configure_view(
    stroke=None
).configure_axis(
    labelFont=FONT, titleFont=FONT, labelColor=INK, titleColor=INK, domainColor=INK,
    tickColor=INK, domainWidth=1.2, tickWidth=1.2, tickSize=4, labelPadding=2,
    titleFontWeight="normal", grid=False, labelFlush=False, labelOverlap=False
).configure_legend(
    labelFont=FONT, titleFont=FONT, labelColor=INK, titleColor=INK
)

chart.save("out.html", embed_options={"renderer": "svg", "actions": False})
